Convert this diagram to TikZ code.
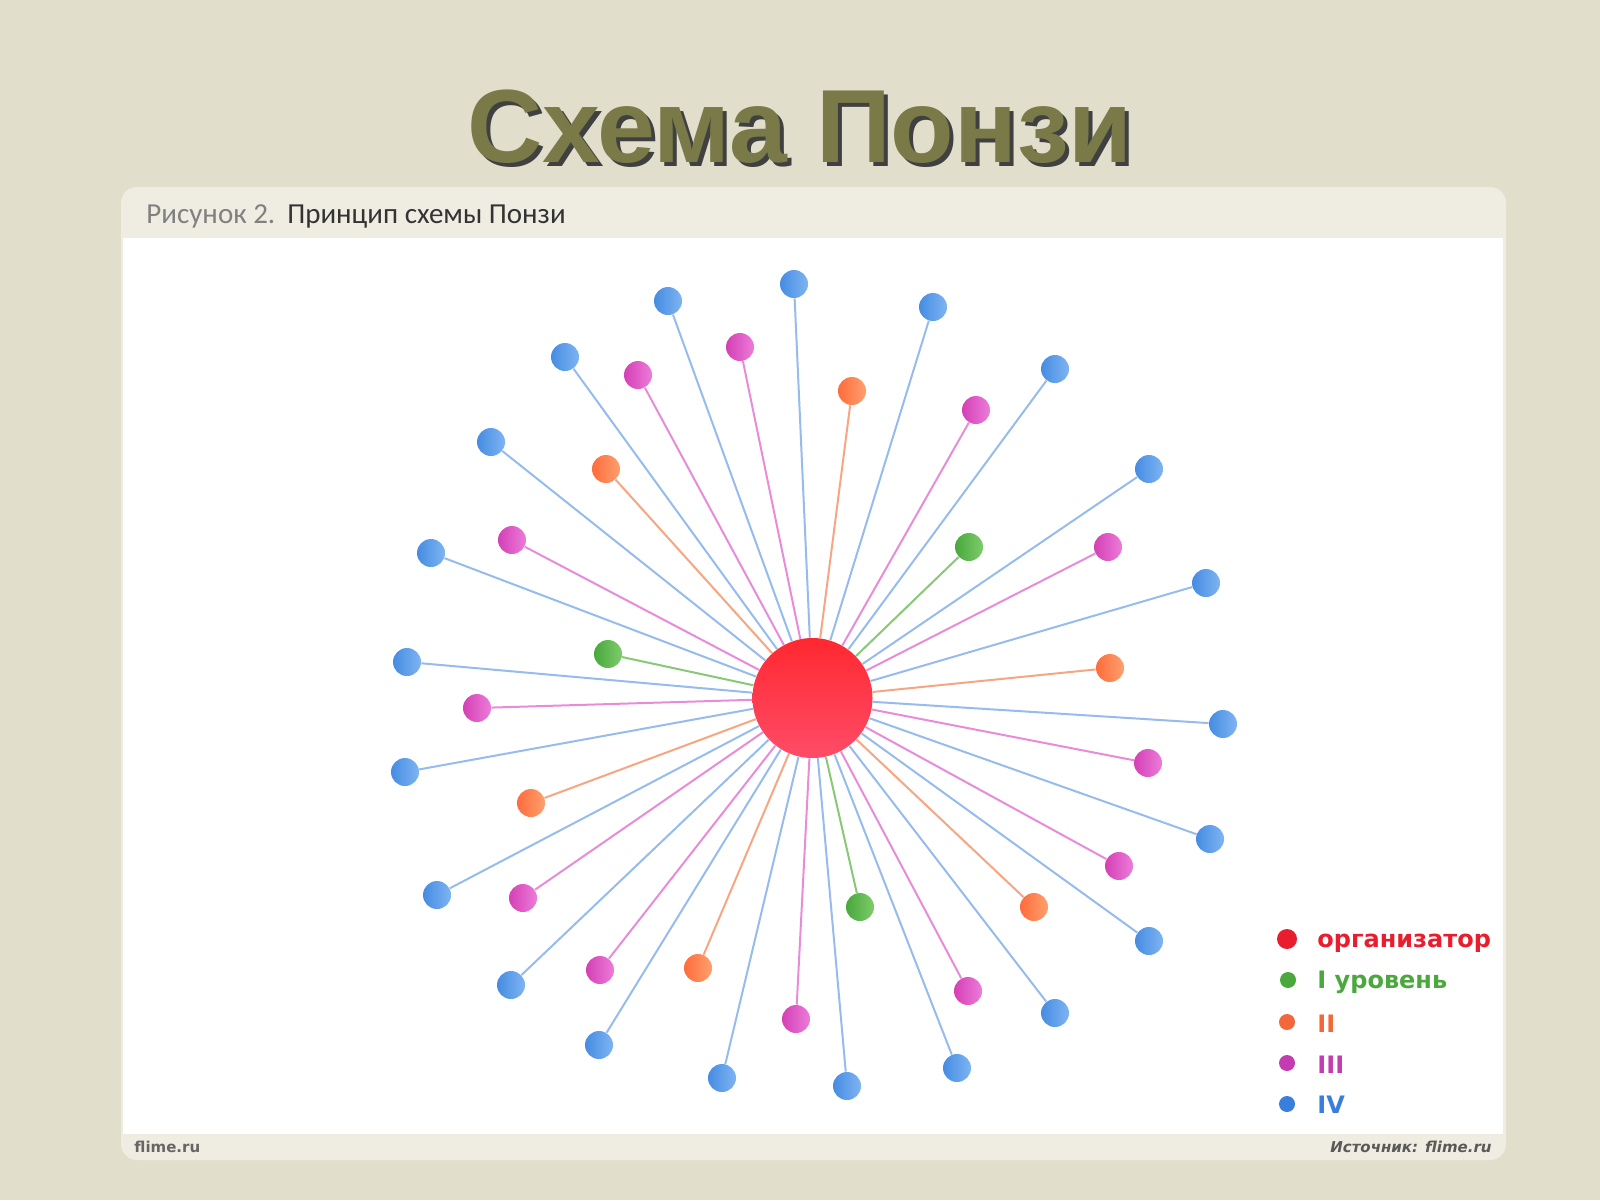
\documentclass[tikz,border=0pt]{standalone}
\usepackage{fontspec}
\setmainfont{Liberation Sans}
\newfontfamily\titlefont{Liberation Sans}
\newfontfamily\capfont{Carlito}
\newfontfamily\legfont{DejaVu Sans}
\definecolor{bgc}{RGB}{225,223,204}
\definecolor{hdr}{RGB}{239,237,226}
\definecolor{titc}{RGB}{122,122,72}
\definecolor{bA}{RGB}{70,140,226}
\definecolor{bB}{RGB}{126,180,242}
\definecolor{mA}{RGB}{212,64,180}
\definecolor{mB}{RGB}{236,124,218}
\definecolor{oA}{RGB}{255,108,60}
\definecolor{oB}{RGB}{255,160,110}
\definecolor{gA}{RGB}{72,168,60}
\definecolor{gB}{RGB}{126,204,106}
\definecolor{rA}{RGB}{255,40,48}
\definecolor{rB}{RGB}{255,76,104}
\definecolor{bL}{RGB}{150,188,238}
\definecolor{mL}{RGB}{232,140,218}
\definecolor{oL}{RGB}{246,166,130}
\definecolor{gL}{RGB}{136,200,118}
\definecolor{legR}{RGB}{232,30,46}
\definecolor{legG}{RGB}{74,168,60}
\definecolor{legO}{RGB}{242,104,58}
\definecolor{legM}{RGB}{196,60,178}
\definecolor{legB}{RGB}{58,126,220}
\tikzset{
  sat/.style={circle,inner sep=0pt,minimum size=14pt,shading angle=45},
  bl/.style={sat,left color=bA,right color=bB},
  mg/.style={sat,left color=mA,right color=mB},
  og/.style={sat,left color=oA,right color=oB},
  gr/.style={sat,left color=gA,right color=gB},
  org/.style={circle,inner sep=0pt,minimum size=60pt,top color=rA,bottom color=rB},
  spoke/.style={line width=1pt},
  legdot/.style={circle,inner sep=0pt,minimum size=8pt},
  legtxt/.style={anchor=base west,inner sep=0pt,font=\legfont\fontsize{12pt}{14pt}\selectfont\bfseries}
}
\begin{document}
\begin{tikzpicture}[x=0.5pt,y=-0.5pt]
\useasboundingbox (0,0) rectangle (1600,1200);
\fill[bgc] (0,0) rectangle (1600,1200);
% title with shadow in one node
\node[anchor=base,inner sep=0pt,text=titc,font=\titlefont\fontsize{52pt}{60pt}\selectfont\bfseries] (title) at (800,162)
  {\makebox[0pt][l]{\hspace{2pt}\raisebox{-2pt}{\textcolor{black!75}{Схема Понзи}}}Схема Понзи};
% panel
\fill[hdr,rounded corners=8pt] (121,187) rectangle (1506,1160);
\fill[white] (123,238) rectangle (1503,1134);
\node[anchor=base west,inner sep=0pt,font=\capfont\fontsize{14.5pt}{16pt}\selectfont] (cap) at (146,223) {\textcolor{black!50}{Рисунок 2.}\hspace{6pt}\textcolor{black!80}{Принцип схемы Понзи}};
\node[anchor=base west,inner sep=0pt,text=black!60,font=\legfont\fontsize{7.5pt}{9pt}\selectfont\bfseries] (fl) at (134,1152) {flime.ru};
\node[anchor=base east,inner sep=0pt,text=black!65,font=\legfont\fontsize{7.5pt}{9pt}\selectfont\bfseries\itshape] (src) at (1492,1152) {Источник: flime.ru};
% centre
\node[org] (c) at (812.5,698) {};
% blue IV
\foreach \n/\x/\y in {1/668/301,2/794/284,3/933/307,4/1055/369,5/1149/469,6/1206/583,7/1223/724,8/1210/839,9/1149/941,10/1055/1013,11/957/1068,12/847/1086,13/722/1078,14/599/1045,15/511/985,16/437/895,17/405/772,18/407/662,19/431/553,20/491/442,21/565/357}
  \node[bl] (b\n) at (\x,\y) {};
% magenta III
\foreach \n/\x/\y in {1/740/347,2/638/375,3/976/410,4/512/540,5/1108/547,6/477/708,7/1148/763,8/1119/866,9/523/898,10/600/970,11/968/991,12/796/1019}
  \node[mg] (m\n) at (\x,\y) {};
% orange II
\foreach \n/\x/\y in {1/852/391,2/606/469,3/1110/668,4/531/803,5/1034/907,6/698/968}
  \node[og] (o\n) at (\x,\y) {};
% green I
\foreach \n/\x/\y in {1/969/547,2/608/654,3/860/907}
  \node[gr] (g\n) at (\x,\y) {};
% spokes
\foreach \n in {1,...,21} \draw[spoke,bL] (c) -- (b\n);
\foreach \n in {1,...,12} \draw[spoke,mL] (c) -- (m\n);
\foreach \n in {1,...,6} \draw[spoke,oL] (c) -- (o\n);
\foreach \n in {1,...,3} \draw[spoke,gL] (c) -- (g\n);
% legend
\node[legdot,fill=legR,minimum size=10pt] (lr) at (1287,939) {};
\node[legdot,fill=legG] (lg) at (1288,980) {};
\node[legdot,fill=legO] (lo) at (1287,1022) {};
\node[legdot,fill=legM] (lm) at (1287,1063) {};
\node[legdot,fill=legB] (lb) at (1287,1104) {};
\node[legtxt,text=legR] (tr) at (1317,947) {организатор};
\node[legtxt,text=legG] (tg) at (1317,988) {I уровень};
\node[legtxt,text=legO] (to) at (1317,1032) {II};
\node[legtxt,text=legM] (tm) at (1317,1073) {III};
\node[legtxt,text=legB] (tb) at (1317,1113) {IV};
\end{tikzpicture}
\end{document}
